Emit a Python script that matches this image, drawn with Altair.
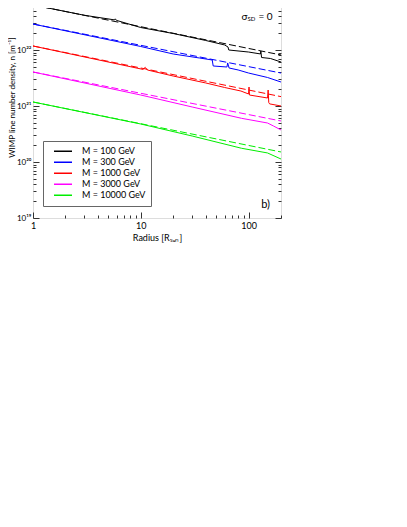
import altair as alt
import pandas as pd

# ---------------- data ----------------
series = ["M = 100 GeV", "M = 300 GeV", "M = 1000 GeV", "M = 3000 GeV", "M = 10000 GeV"]
colors = ["#000000", "#0000ff", "#ff0000", "#ff00ff", "#00ee00"]

# solid curves: radius [R_sun], WIMP line number density [m^-1]
r_m100 = [1, 3, 5.7, 5.8, 5.95, 10, 20, 40, 60, 64.5, 65.5, 100, 129, 130, 132, 160, 200]
n_m100 = [6.37e22, 4.17e22, 3.45e22, 3.6e22, 3.38e22, 2.52e22, 1.97e22, 1.48e22, 1.23e22,
          1.13e22, 1.0e22, 9.2e21, 8.5e21, 9.6e21, 7.35e21, 7.05e21, 6.1e21]

r_m300 = [1, 10, 20, 35, 46, 47, 63, 64, 66, 80, 100, 150, 200]
n_m300 = [2.91e22, 1.155e22, 8.48e21, 7.2e21, 6.63e21, 5.18e21, 4.97e21, 5.87e21, 4.77e21,
          4.4e21, 3.88e21, 3.23e21, 2.68e21]

r_m1000 = [1, 10.5, 11, 11.5, 20, 40, 60, 85, 100, 101, 102, 150, 152, 154, 157, 200]
n_m1000 = [1.18e22, 4.5e21, 4.9e21, 4.4e21, 3.43e21, 2.58e21, 2.14e21, 1.85e21, 1.64e21,
           2.18e21, 1.57e21, 1.39e21, 1.93e21, 1.15e21, 1.09e21, 1.0e21]

r_m3000 = [1, 10, 30, 86, 150, 170, 200]
n_m3000 = [4.05e21, 1.57e21, 9.6e20, 6.03e20, 4.97e20, 4.4e20, 3.73e20]

r_m10000 = [1, 10, 30, 86, 150, 200]
n_m10000 = [1.18e21, 4.77e20, 2.91e20, 1.76e20, 1.45e20, 1.13e20]

# dashed (analytic) curves
r_dash = [1, 200]
n_dash_m100 = [6.37e22, 8.15e21]
n_dash_m300 = [2.91e22, 3.88e21]
n_dash_m1000 = [1.18e22, 1.47e21]
n_dash_m3000 = [4.05e21, 5.4e20]
n_dash_m10000 = [1.18e21, 1.51e20]

# axes
x_label_values = [1, 10, 100]
x_tick_values = [1, 2, 3, 4, 5, 6, 7, 8, 9, 10, 20, 30, 40, 50, 60, 70, 80, 90, 100, 200]
y_label_values = [1e19, 1e20, 1e21, 1e22]
y_labels = ["10¹⁹", "10²⁰", "10²¹", "10²²"]
y_tick_values = [k * 10.0 ** e for e in range(19, 23) for k in range(1, 10)] + [1e23]

x_domain = [1, 200]
y_domain = [1e19, 1e23]

# annotations
note_sd = {"r": [86], "n": [3.9e22]}
note_si = {"r": [58.4], "n": [8.8e22]}
note_b = {"r": [144], "n": [1.7e19], "t": ["b)"]}

# ---------------- frames ----------------
solid_rows = []
for name, rr, nn in zip(series, [r_m100, r_m300, r_m1000, r_m3000, r_m10000],
                        [n_m100, n_m300, n_m1000, n_m3000, n_m10000]):
    for i, (a, b) in enumerate(zip(rr, nn)):
        solid_rows.append({"series": name, "r": a, "n": b, "o": i})
solid = pd.DataFrame(solid_rows)

dash_rows = []
for name, nn in zip(series, [n_dash_m100, n_dash_m300, n_dash_m1000, n_dash_m3000, n_dash_m10000]):
    for i, (a, b) in enumerate(zip(r_dash, nn)):
        dash_rows.append({"series": name, "r": a, "n": b, "o": i})
dashed = pd.DataFrame(dash_rows)

W, H = 248, 224
FONT = "Lato"
AX = "#333333"
major_test = "abs(log(datum.value)/LN10 - round(log(datum.value)/LN10)) < 0.01"
tick_size = {"condition": {"test": major_test, "value": 6}, "value": 3}


def xenc(axis):
    return alt.X("r:Q", scale=alt.Scale(type="log", domain=x_domain, nice=False), axis=axis)


def yenc(axis):
    return alt.Y("n:Q", scale=alt.Scale(type="log", domain=y_domain, nice=False), axis=axis)


color_scale = alt.Scale(domain=series, range=colors)
label_expr = "[" + ",".join("'%s'" % s for s in y_labels) + "][round(log(datum.value)/LN10) - 19]"

x_label_axis = alt.Axis(values=x_label_values, format="d", ticks=False, domain=False, grid=False,
                        labelFlush=False, labelFont=FONT, labelFontSize=9, labelPadding=3,
                        labelColor="#000", title="Radius [Rₛᵤₙ]", titleFont=FONT,
                        titleFontSize=9, titleFontWeight="normal", titlePadding=3)
y_label_axis = alt.Axis(values=y_label_values, labelExpr=label_expr, ticks=False, domain=False,
                        grid=False, labelFont=FONT, labelFontSize=8, labelPadding=2,
                        labelColor="#000", title="WIMP line number density, n [m⁻¹]",
                        titleFont=FONT, titleFontSize=8, titleFontWeight="normal",
                        titlePadding=0, titleY=103)
x_tick_axis = alt.Axis(values=x_tick_values, orient="top", offset=-H, labels=False, domain=False,
                       grid=False, title=None, tickColor=AX, tickSize=tick_size)
y_tick_axis_l = alt.Axis(values=y_tick_values, orient="right", offset=-W, labels=False,
                         domain=False, grid=False, title=None, tickColor=AX, tickSize=tick_size)
y_tick_axis_r = alt.Axis(values=y_tick_values, orient="left", offset=-W, labels=False,
                         domain=False, grid=False, title=None, tickColor=AX, tickSize=tick_size)

solid_layer = alt.Chart(solid).mark_line(strokeWidth=1, clip=True).encode(
    x=xenc(x_label_axis),
    y=yenc(y_label_axis),
    color=alt.Color("series:N", scale=color_scale, sort=series,
                    legend=alt.Legend(title=None, orient="none", legendX=10, legendY=147,
                                      direction="vertical", fillColor="white",
                                      strokeColor="#666666", padding=5, symbolType="stroke",
                                      symbolSize=324, symbolStrokeWidth=1.5, symbolOffset=5,
                                      labelFont=FONT, labelFontSize=9, labelColor="#000",
                                      labelOffset=9, clipHeight=10.5, rowPadding=0,
                                      cornerRadius=0)),
    order="o:Q",
)

dashed_layer = alt.Chart(dashed).mark_line(strokeWidth=1, strokeDash=[7, 3], clip=True).encode(
    x=xenc(x_tick_axis),
    y=yenc(y_tick_axis_l),
    color=alt.Color("series:N", scale=color_scale, legend=None),
    order="o:Q",
)

b_layer = alt.Chart(pd.DataFrame(note_b)).mark_text(font=FONT, fontSize=11, color="#000").encode(
    x=xenc(None), y=yenc(y_tick_axis_r), text="t:N")


def piece(note, txt, size, dx, dy):
    return alt.Chart(pd.DataFrame(note)).mark_text(
        text=txt, font=FONT, fontSize=size, color="#000", align="left", baseline="middle",
        dx=dx, dy=dy).encode(x=xenc(None), y=yenc(None))


notes = [
    piece(note_sd, "σ", 10, 0, 0),
    piece(note_sd, "SD", 6, 6, 2),
    piece(note_sd, "= 0", 10, 17, 0),
    piece(note_si, "σ", 10, 0, 0),
    piece(note_si, "SI", 6, 6, 2),
    piece(note_si, "= 10⁻⁸ pb", 10, 13, 0),
]

chart = alt.layer(solid_layer, dashed_layer, b_layer, *notes).resolve_scale(
    x="independent", y="independent"
).properties(
    width=W, height=H,
    autosize=alt.AutoSizeParams(type="none"),
    padding={"left": 25, "top": -14, "right": 100, "bottom": 80},
).configure_view(stroke=AX, strokeWidth=1).configure(font=FONT)

chart.save("out.html", embed_options={"renderer": "svg", "actions": False})
